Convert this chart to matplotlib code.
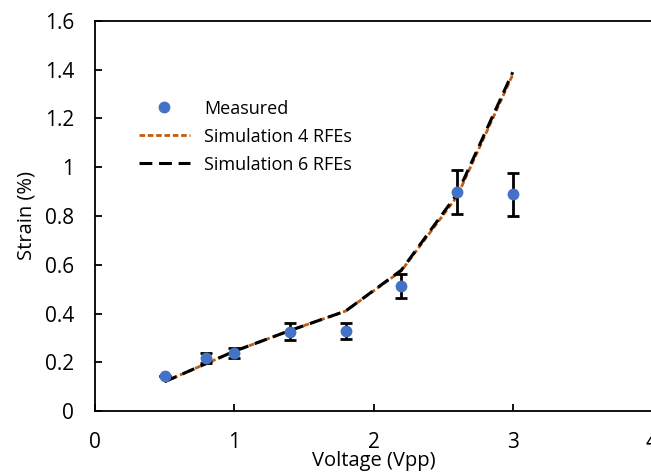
import numpy as np
import matplotlib.pyplot as plt

plt.rcParams['font.family'] = ['Open Sans', 'DejaVu Sans']

# data
voltage = [0.5, 0.8, 1.0, 1.4, 1.8, 2.2, 2.6, 3.0]
measured = [0.145, 0.217, 0.238, 0.325, 0.330, 0.513, 0.900, 0.890]
meas_err = [0.0, 0.020, 0.022, 0.035, 0.033, 0.050, 0.090, 0.088]
sim4 = [0.120, 0.195, 0.245, 0.330, 0.410, 0.575, 0.880, 1.380]
sim6 = [0.120, 0.195, 0.245, 0.330, 0.410, 0.578, 0.890, 1.390]

fig = plt.figure(figsize=(6.51, 4.74), dpi=100)
ax = fig.add_axes([95/651, 1 - 411/474, 557/651, 390/474])

l4, = ax.plot(voltage, sim4, color='#C55A11', lw=2.0, dashes=(2.0, 1.0), zorder=2)
l6, = ax.plot(voltage, sim6, color='black', lw=2.2, dashes=(4.2, 2.2), zorder=3)
ax.errorbar(voltage, measured, yerr=meas_err, fmt='none', ecolor='black',
            elinewidth=2, capsize=4, capthick=2, zorder=4)
pts, = ax.plot(voltage, measured, 'o', color='#4472C4', ms=7.5, zorder=5)

ax.set_xlim(0, 4)
ax.set_ylim(0, 1.6)
ax.set_xticks([0, 1, 2, 3, 4])
ax.set_yticks(np.arange(0, 1.61, 0.2))
ax.set_yticklabels(['0', '0.2', '0.4', '0.6', '0.8', '1', '1.2', '1.4', '1.6'])
ax.tick_params(direction='in', length=5, width=1.3, labelsize=15, colors='black', pad=15)
for s in ax.spines.values():
    s.set_linewidth(1.3)

ax.set_xlabel('Voltage (Vpp)', fontsize=14.5, labelpad=-1)
ax.set_ylabel('Strain (%)', fontsize=14.5, labelpad=6)

ax.legend([pts, l4, l6], ['Measured', 'Simulation 4 RFEs', 'Simulation 6 RFEs'],
          frameon=False, fontsize=13, loc='upper left', bbox_to_anchor=(0.05, 0.84),
          handlelength=2.8, labelspacing=0.55)

fig.savefig('out.png', dpi=100)
